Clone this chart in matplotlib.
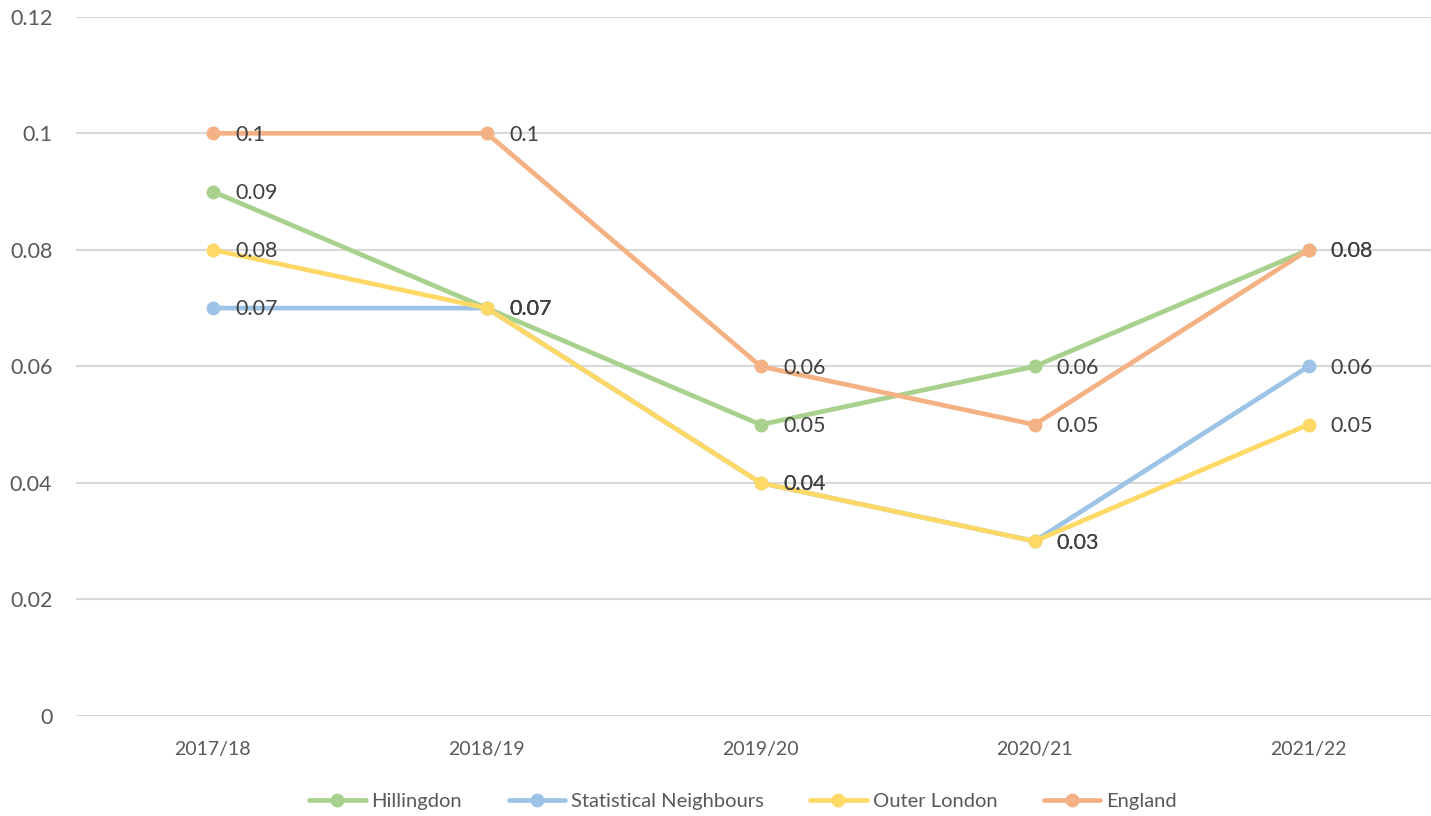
import matplotlib
matplotlib.use("Agg")
import matplotlib.pyplot as plt

# data
years = ["2017/18", "2018/19", "2019/20", "2020/21", "2021/22"]
hillingdon = [0.09, 0.07, 0.05, 0.06, 0.08]
stat_neighbours = [0.07, 0.07, 0.04, 0.03, 0.06]
outer_london = [0.08, 0.07, 0.04, 0.03, 0.05]
england = [0.10, 0.10, 0.06, 0.05, 0.08]

series = [
    ("Hillingdon", hillingdon, "#A9D18E"),
    ("Statistical Neighbours", stat_neighbours, "#9DC3E6"),
    ("Outer London", outer_london, "#FFD966"),
    ("England", england, "#F4B183"),
]

plt.rcParams['font.family'] = ['Lato', 'DejaVu Sans']

fig = plt.figure(figsize=(14.31, 8.16), dpi=100)
ax = fig.add_axes([0.0531, 0.1225, 0.957, 0.857])

x = list(range(len(years)))
for name, vals, col in series:
    ax.plot(x, vals, color=col, lw=3.4, marker='o', ms=9, label=name,
            solid_capstyle='round')
    for xi, v in zip(x, vals):
        ax.annotate(f"{v:g}", (xi, v), xytext=(16, -1), textcoords='offset points',
                    va='center', ha='left', fontsize=15.5, color='#404040')

ax.set_xlim(-0.5, 4.5)
ax.set_ylim(0, 0.12)
ax.set_yticks([0, 0.02, 0.04, 0.06, 0.08, 0.1, 0.12])
ax.set_yticklabels(["0", "0.02", "0.04", "0.06", "0.08", "0.1", "0.12"])
ax.set_xticks(x)
ax.set_xticklabels(years)
ax.tick_params(axis='both', length=0, colors='#595959')
ax.tick_params(axis='x', pad=18, labelsize=14)
ax.tick_params(axis='y', pad=17, labelsize=15.5)
ax.grid(axis='y', color='#D9D9D9', lw=1.5)
ax.set_axisbelow(True)
for s in ax.spines.values():
    s.set_visible(False)

leg = ax.legend(loc='lower center', bbox_to_anchor=(0.5 / 0.957 - 0.0531 / 0.957 + 0.02, -0.16),
                ncol=4, frameon=False, fontsize=14.5, handlelength=2.8,
                columnspacing=2.3, handletextpad=0.3)
for t in leg.get_texts():
    t.set_color('#595959')

fig.savefig("out.png", dpi=100)
